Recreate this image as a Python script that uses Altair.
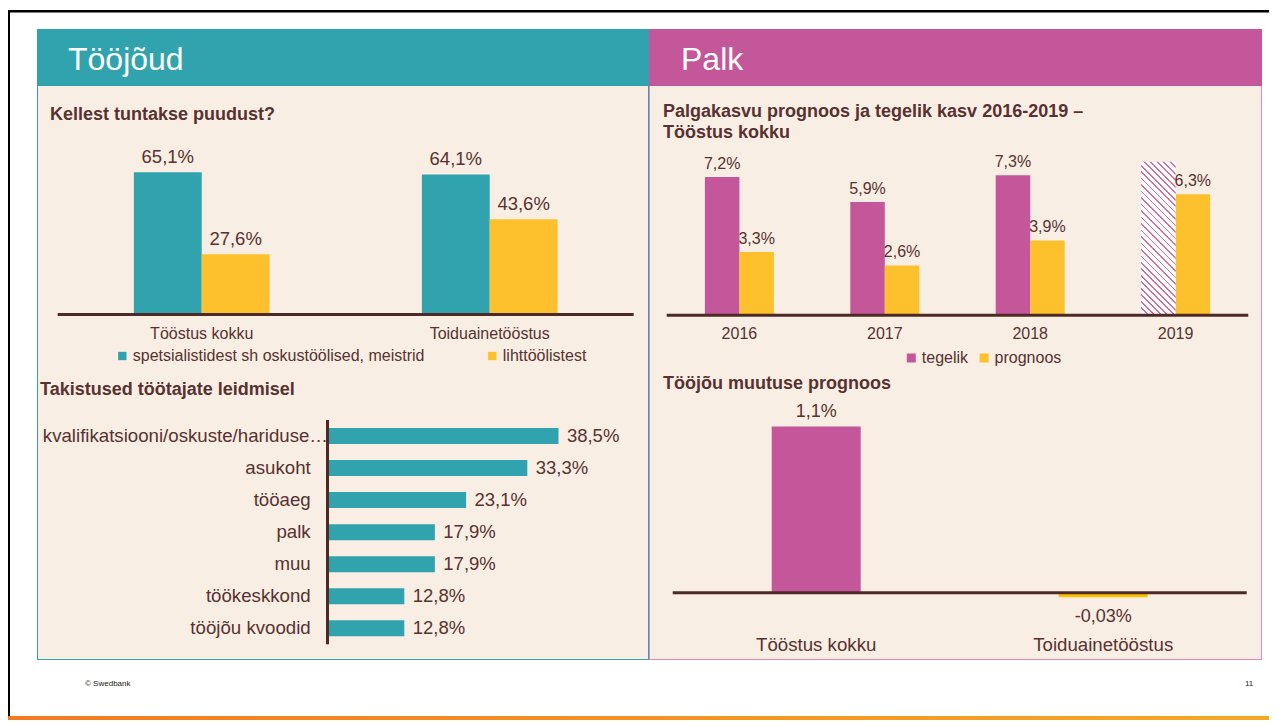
import altair as alt
import pandas as pd

# ---------------- data ----------------
shortage_categories = ["Tööstus kokku", "Toiduainetööstus"]
shortage_series = ["spetsialistidest sh oskustöölised, meistrid", "lihttöölistest"]
shortage_specialists = [65.1, 64.1]
shortage_unskilled = [27.6, 43.6]

obstacle_labels = ["kvalifikatsiooni/oskuste/hariduse…", "asukoht", "tööaeg", "palk",
                   "muu", "töökeskkond", "tööjõu kvoodid"]
obstacle_values = [38.5, 33.3, 23.1, 17.9, 17.9, 12.8, 12.8]

wage_years = ["2016", "2017", "2018", "2019"]
wage_series = ["tegelik", "prognoos"]
wage_actual = [7.2, 5.9, 7.3, None]
wage_forecast = [3.3, 2.6, 3.9, 6.3]
wage_2019_pending = 8.0  # hatched (not yet known) bar

labour_categories = ["Tööstus kokku", "Toiduainetööstus"]
labour_change = [1.1, -0.03]

# ---------------- style ----------------
FONT = "Liberation Sans"
TEXT = "#573230"
LINE = "#4E2A27"
BEIGE = "#F9EEE4"
TEAL = "#31A3AE"
YELLOW = "#FCC12D"
YELLOW2 = "#FFC000"
MAGENTA = "#C4569A"
HATCH = "#CF6FA8"
PINK_BORDER = "#DC8CBF"


def pct(v):
    s = f"{v:.1f}" if abs(v) >= 0.1 else f"{v:.2f}"
    return s.replace(".", ",") + "%"


def txt(text, x, y, size, bold=False, color=TEXT, align="left", baseline="middle"):
    return alt.Chart(pd.DataFrame({"t": [text]})).mark_text(
        font=FONT, fontSize=size, fontWeight="bold" if bold else "normal",
        color=color, align=align, baseline=baseline
    ).encode(x=alt.value(x), y=alt.value(y), text="t:N")


def box(x0, x1, y0, y1, color):
    return alt.Chart(pd.DataFrame({"k": [0]})).mark_rect(color=color, strokeWidth=0).encode(
        x=alt.value(x0), x2=alt.value(x1), y=alt.value(y0), y2=alt.value(y1))


def view(fill):
    return alt.ViewBackground(fill=fill, strokeWidth=0)


LW = 612  # left column width
RW = 613  # right column width

# ---------------- headers ----------------
hdrL = alt.layer(txt("Tööjõud", 31, 31, 32, color="white")).properties(
    width=LW, height=57, view=view(TEAL))
hdrR = alt.layer(txt("Palk", 32, 31, 32, color="white")).properties(
    width=RW, height=57, view=view(MAGENTA))

# ---------------- panel A: Kellest tuntakse puudust? ----------------
dfA = pd.DataFrame({
    "cat": shortage_categories * 2,
    "series": [shortage_series[0]] * 2 + [shortage_series[1]] * 2,
    "value": shortage_specialists + shortage_unskilled,
})
dfA["label"] = dfA["value"].map(pct)
scA_x = alt.Scale(type="band", domain=shortage_categories, range=[20.7, 596.7],
                  paddingInner=0.529, paddingOuter=0.2645)
scA_y = alt.Scale(domain=[0, 100], range=[228.5, 10], nice=False)
offA = alt.XOffset("series:N", scale=alt.Scale(domain=shortage_series, paddingInner=0, paddingOuter=0))
legA = alt.Legend(orient="none", legendX=77.3, legendY=262, direction="horizontal", title=None,
                  symbolType="square", symbolSize=70, symbolStrokeWidth=0, labelFont=FONT,
                  labelFontSize=16, labelColor=TEXT, labelLimit=400, columnPadding=59,
                  labelOffset=2.5, padding=0)
barsA = alt.Chart(dfA).mark_bar().encode(
    x=alt.X("cat:N", scale=scA_x, axis=None),
    y=alt.Y("value:Q", scale=scA_y, axis=None),
    xOffset=offA,
    color=alt.Color("series:N", scale=alt.Scale(domain=shortage_series, range=[TEAL, YELLOW]), legend=legA),
)
valsA = alt.Chart(dfA).mark_text(font=FONT, fontSize=18.5, color=TEXT, baseline="alphabetic", dy=-9).encode(
    x=alt.X("cat:N", scale=scA_x, axis=None),
    y=alt.Y("value:Q", scale=scA_y, axis=None),
    xOffset=offA, text="label:N")
catsA = alt.Chart(pd.DataFrame({"cat": shortage_categories})).mark_text(
    font=FONT, fontSize=16, color=TEXT, baseline="alphabetic").encode(
    x=alt.X("cat:N", scale=scA_x, axis=None), y=alt.value(253.3), text="cat:N")
ruleA = alt.Chart(pd.DataFrame({"zero": [0]})).mark_rule(color=LINE, strokeWidth=3).encode(
    y=alt.Y("zero:Q", scale=scA_y, axis=None), x=alt.value(20.7), x2=alt.value(596.7))
panelA = alt.layer(
    txt("Kellest tuntakse puudust?", 13, 29, 18, bold=True),
    barsA, valsA, catsA, ruleA,
    box(0, 1, 0, 289, TEAL), box(LW - 1, LW, 0, 289, TEAL),
).properties(width=LW, height=289, view=view(BEIGE))

# ---------------- panel B: Takistused töötajate leidmisel ----------------
dfB = pd.DataFrame({"label": obstacle_labels, "value": obstacle_values})
dfB["txt"] = dfB["value"].map(pct)
scB_y = alt.Scale(type="band", domain=obstacle_labels, range=[45, 269.3], paddingInner=0.5, paddingOuter=0.25)
scB_x = alt.Scale(domain=[0, 50], range=[290.5, 590.5], nice=False)
barsB = alt.Chart(dfB).mark_bar(color=TEAL).encode(
    y=alt.Y("label:N", scale=scB_y, axis=None), x=alt.X("value:Q", scale=scB_x, axis=None))
valsB = alt.Chart(dfB).mark_text(font=FONT, fontSize=18.5, color=TEXT, align="left", baseline="middle", dx=8.4).encode(
    y=alt.Y("label:N", scale=scB_y, axis=None), x=alt.X("value:Q", scale=scB_x, axis=None), text="txt:N")
catsB = alt.Chart(dfB).transform_filter(
    alt.datum.label != obstacle_labels[0]).mark_text(
    font=FONT, fontSize=18.67, color=TEXT, align="right", baseline="middle").encode(
    y=alt.Y("label:N", scale=scB_y, axis=None), x=alt.value(273.7), text="label:N")
catsB0 = alt.Chart(dfB).transform_filter(
    alt.datum.label == obstacle_labels[0]).mark_text(
    font=FONT, fontSize=18.67, color=TEXT, align="right", baseline="middle").encode(
    y=alt.Y("label:N", scale=scB_y, axis=None), x=alt.value(291), text="label:N")
ruleB = alt.Chart(pd.DataFrame({"zero": [0]})).mark_rule(color=LINE, strokeWidth=3).encode(
    x=alt.X("zero:Q", scale=scB_x, axis=None), y=alt.value(45), y2=alt.value(269.3))
panelB = alt.layer(
    txt("Takistused töötajate leidmisel", 3, 15, 18, bold=True),
    barsB, valsB, catsB, catsB0, ruleB,
    box(0, 1, 0, 285, TEAL), box(LW - 1, LW, 0, 285, TEAL), box(0, LW, 284, 285, TEAL),
).properties(width=LW, height=285, view=view(BEIGE))

# ---------------- panel C: Palgakasvu prognoos ----------------
rows = []
for yr, a, f in zip(wage_years, wage_actual, wage_forecast):
    if a is not None:
        rows.append({"year": yr, "kind": "tegelik", "value": a})
    rows.append({"year": yr, "kind": "prognoos", "value": f})
dfC = pd.DataFrame(rows)
dfC["label"] = dfC["value"].map(pct)
C_LO, C_HI, C_PI = 17.7, 599.3, 0.5255
scC_x = alt.Scale(type="band", domain=wage_years, range=[C_LO, C_HI], paddingInner=C_PI, paddingOuter=C_PI / 2)
C_Y0, C_PX = 229.3, 19.2
scC_y = alt.Scale(domain=[0, 10], range=[C_Y0, C_Y0 - 10 * C_PX], nice=False)
offC = alt.XOffset("kind:N", scale=alt.Scale(domain=wage_series, paddingInner=0, paddingOuter=0))
legC = alt.Legend(orient="none", legendX=254.3, legendY=264, direction="horizontal", title=None,
                  symbolType="square", symbolSize=81, symbolStrokeWidth=0, labelFont=FONT,
                  labelFontSize=16, labelColor=TEXT, labelLimit=300, columnPadding=7.8,
                  labelOffset=2.5, padding=0)
barsC = alt.Chart(dfC).mark_bar().encode(
    x=alt.X("year:N", scale=scC_x, axis=None),
    y=alt.Y("value:Q", scale=scC_y, axis=None),
    xOffset=offC,
    color=alt.Color("kind:N", scale=alt.Scale(domain=wage_series, range=[MAGENTA, YELLOW]), legend=legC),
)
# diagonal hatch via a sharp-stop linear gradient
bw = (C_HI - C_LO) / len(wage_years) * (1 - C_PI) / 2
bh = wage_2019_pending * C_PX
dy_ = -bh / bw
s = (1 + (-dy_)) / (1 + dy_ * dy_)
N = 29
stops = []
for k in range(N):
    a0, a1, a2 = k / N, (k + 0.28) / N, (k + 1) / N
    stops += [alt.GradientStop(color=HATCH, offset=a0), alt.GradientStop(color=HATCH, offset=a1),
              alt.GradientStop(color="#FFFFFF", offset=a1), alt.GradientStop(color="#FFFFFF", offset=a2)]
hatch = alt.LinearGradient(gradient="linear", stops=stops, x1=0, y1=1, x2=s, y2=1 + dy_ * s)
hatchC = alt.Chart(pd.DataFrame({"year": ["2019"], "kind": ["tegelik"], "value": [wage_2019_pending]})).mark_bar(
    fill=hatch, strokeWidth=0).encode(
    x=alt.X("year:N", scale=scC_x, axis=None),
    y=alt.Y("value:Q", scale=scC_y, axis=None),
    xOffset=offC)
valsC = alt.Chart(dfC).mark_text(font=FONT, fontSize=16, color=TEXT, baseline="alphabetic", dy=-8.4).encode(
    x=alt.X("year:N", scale=scC_x, axis=None),
    y=alt.Y("value:Q", scale=scC_y, axis=None),
    xOffset=offC, text="label:N")
catsC = alt.Chart(pd.DataFrame({"year": wage_years})).mark_text(
    font=FONT, fontSize=16, color=TEXT, baseline="alphabetic").encode(
    x=alt.X("year:N", scale=scC_x, axis=None), y=alt.value(253), text="year:N")
ruleC = alt.Chart(pd.DataFrame({"zero": [0]})).mark_rule(color=LINE, strokeWidth=3).encode(
    y=alt.Y("zero:Q", scale=scC_y, axis=None), x=alt.value(C_LO), x2=alt.value(C_HI))
panelC = alt.layer(
    txt("Palgakasvu prognoos ja tegelik kasv 2016-2019 –", 14, 26, 18, bold=True),
    txt("Tööstus kokku", 14, 47, 18, bold=True),
    barsC, hatchC, valsC, catsC, ruleC,
    box(0, 1, 0, 286, PINK_BORDER), box(RW - 1, RW, 0, 286, PINK_BORDER),
).properties(width=RW, height=286, view=view(BEIGE))

# ---------------- panel D: Tööjõu muutuse prognoos ----------------
dfD = pd.DataFrame({"cat": labour_categories, "value": labour_change})
dfD["label"] = dfD["value"].map(pct)
scD_x = alt.Scale(type="band", domain=labour_categories, range=[23.7, 597.7], paddingInner=0.69, paddingOuter=0.345)
D_Y0, D_PX = 220.7, 151
scD_y = alt.Scale(domain=[-0.1, 1.2], range=[D_Y0 + 0.1 * D_PX, D_Y0 - 1.2 * D_PX], nice=False)
barsD = alt.Chart(dfD).mark_bar().encode(
    x=alt.X("cat:N", scale=scD_x, axis=None),
    y=alt.Y("value:Q", scale=scD_y, axis=None),
    color=alt.Color("cat:N", scale=alt.Scale(domain=labour_categories, range=[MAGENTA, YELLOW2]), legend=None),
)
valsDpos = alt.Chart(dfD).transform_filter(alt.datum.value >= 0).mark_text(
    font=FONT, fontSize=18, color=TEXT, baseline="alphabetic", dy=-9.3).encode(
    x=alt.X("cat:N", scale=scD_x, axis=None), y=alt.Y("value:Q", scale=scD_y, axis=None), text="label:N")
valsDneg = alt.Chart(dfD).transform_filter(alt.datum.value < 0).mark_text(
    font=FONT, fontSize=18, color=TEXT, baseline="alphabetic", dy=24.5).encode(
    x=alt.X("cat:N", scale=scD_x, axis=None), y=alt.Y("value:Q", scale=scD_y, axis=None), text="label:N")
catsD = alt.Chart(pd.DataFrame({"cat": labour_categories})).mark_text(
    font=FONT, fontSize=18.67, color=TEXT, baseline="alphabetic").encode(
    x=alt.X("cat:N", scale=scD_x, axis=None), y=alt.value(278.7), text="cat:N")
ruleD = alt.Chart(pd.DataFrame({"zero": [0]})).mark_rule(color=LINE, strokeWidth=3).encode(
    y=alt.Y("zero:Q", scale=scD_y, axis=None), x=alt.value(23.7), x2=alt.value(597.7))
panelD = alt.layer(
    txt("Tööjõu muutuse prognoos", 14, 12, 18, bold=True),
    barsD, ruleD, valsDpos, valsDneg, catsD,
    box(0, 1, 0, 288, PINK_BORDER), box(RW - 1, RW, 0, 288, PINK_BORDER), box(0, RW, 287, 288, PINK_BORDER),
).properties(width=RW, height=288, view=view(BEIGE))

# ---------------- frame / footer ----------------
TOTAL_W = 1261
FOOT_H = 60
top_strip = alt.layer(
    box(0, TOTAL_W, 2, 4.5, "black"), box(0, 2, 2, 21, "black"),
).properties(width=TOTAL_W, height=21, view=view("white"))
left_strip = alt.layer(box(0, 2, 0, 631, "black")).properties(width=29, height=631, view=view("white"))
orange = alt.LinearGradient(gradient="linear", x1=0, y1=0, x2=1, y2=0,
                            stops=[alt.GradientStop(color="#F47A20", offset=0),
                                   alt.GradientStop(color="#F7A823", offset=1)])
orange_bar = alt.Chart(pd.DataFrame({"k": [0]})).mark_rect(fill=orange, strokeWidth=0).encode(
    x=alt.value(0), x2=alt.value(TOTAL_W), y=alt.value(FOOT_H - 4), y2=alt.value(FOOT_H))
footer = alt.layer(
    box(0, 2, 0, FOOT_H - 4, "black"),
    txt("© Swedbank", 77, 24, 8, color="#222222"),
    txt("11", 1237, 24, 8, color="#222222"),
    orange_bar,
).properties(width=TOTAL_W, height=FOOT_H, view=view("white"))


def indep(c):
    return c.resolve_scale(color="independent", xOffset="independent").resolve_legend(color="independent")


left_col = indep(alt.vconcat(hdrL, panelA, panelB, spacing=0))
right_col = indep(alt.vconcat(hdrR, panelC, panelD, spacing=0))
middle = indep(alt.hconcat(left_strip, left_col, right_col, spacing=0))
chart = indep(alt.vconcat(top_strip, middle, footer, spacing=0)).properties(
    padding={"left": 0, "top": 0, "right": 0, "bottom": 0}
).configure_view(strokeWidth=0)

chart.save("out.html", embed_options={"renderer": "svg", "actions": False})
